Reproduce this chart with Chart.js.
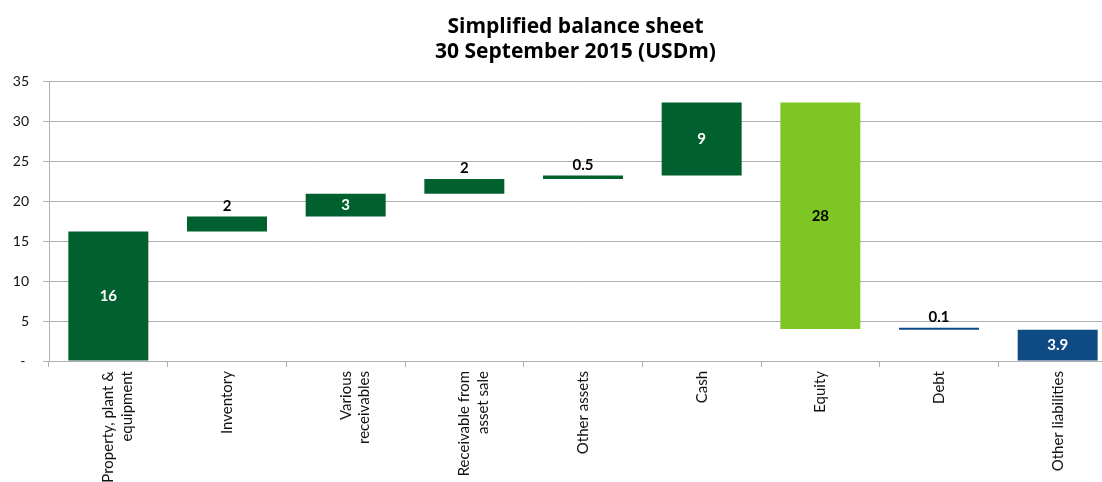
<!doctype html>
<html lang="en">
<head>
<meta charset="utf-8">
<title>Simplified balance sheet</title>
<script src="https://cdn.jsdelivr.net/npm/chart.js"></script>
<style>
  html, body { margin: 0; padding: 0; background: #fff; overflow: hidden; }
  #wrap { position: absolute; left: 0; top: 0; width: 1117px; height: 482px; }
</style>
</head>
<body>
<div id="wrap"><canvas id="myChart"></canvas></div>
<script>
// categories (x axis)
const categories = [
  ["Property, plant &", "equipment"],
  "Inventory",
  ["Various", "receivables"],
  ["Receivable from", "asset sale"],
  "Other assets",
  "Cash",
  "Equity",
  "Debt",
  "Other liabilities"
];
// waterfall: where each bar starts and ends (USDm)
const barStart = [0, 16.2, 18.05, 20.9, 22.75, 23.2, 4.0, 3.9, 0];
const barEnd   = [16.2, 18.05, 20.9, 22.75, 23.2, 32.3, 32.3, 4.0, 3.9];
// value labels as printed on the chart
const valueLabels = ["16", "2", "3", "2", "0.5", "9", "28", "0.1", "3.9"];
const labelInside = [true, false, true, false, false, true, true, false, true];
const yTicks = [0, 5, 10, 15, 20, 25, 30, 35];

const darkGreen = "#00612f";
const lightGreen = "#7dc623";
const blue = "#0e4a84";
const barColors = [darkGreen, darkGreen, darkGreen, darkGreen, darkGreen, darkGreen, lightGreen, blue, blue];
const labelColors = ["#fff", "#000", "#fff", "#000", "#000", "#fff", "#000", "#000", "#fff"];

const FONT = "Lato, 'Open Sans', sans-serif";

// draws the numbers on/above the bars
const valueLabelPlugin = {
  id: "valueLabels",
  afterDatasetsDraw(chart) {
    const ctx = chart.ctx;
    const meta = chart.getDatasetMeta(0);
    ctx.save();
    ctx.font = "bold 15px " + FONT;
    ctx.textAlign = "center";
    meta.data.forEach(function (bar, i) {
      const top = Math.min(bar.y, bar.base);
      const bottom = Math.max(bar.y, bar.base);
      ctx.fillStyle = labelColors[i];
      if (labelInside[i]) {
        ctx.textBaseline = "middle";
        ctx.fillText(valueLabels[i], bar.x, (top + bottom) / 2);
      } else {
        ctx.textBaseline = "bottom";
        ctx.fillText(valueLabels[i], bar.x, top - 3);
      }
    });
    ctx.restore();
  }
};

// two line title centred over the visible plot
const titlePlugin = {
  id: "twoLineTitle",
  afterDraw(chart) {
    const ctx = chart.ctx;
    const area = chart.chartArea;
    const cx = (area.left + Math.min(area.right, window.innerWidth)) / 2;
    ctx.save();
    ctx.font = "bold 21px 'Open Sans', sans-serif";
    ctx.fillStyle = "#000";
    ctx.textAlign = "center";
    ctx.textBaseline = "alphabetic";
    ctx.fillText("Simplified balance sheet", cx, 33);
    ctx.fillText("30 September 2015 (USDm)", cx, 58);
    ctx.restore();
  }
};

const ctx = document.getElementById("myChart");
const myChart = new Chart(ctx, {
  type: "bar",
  data: {
    labels: categories,
    datasets: [{
      label: "USDm",
      data: barStart.map(function (s, i) { return [s, barEnd[i]]; }),
      backgroundColor: barColors,
      borderWidth: 0,
      barPercentage: 0.674,
      categoryPercentage: 1,
      minBarLength: 2
    }]
  },
  options: {
    responsive: true,
    maintainAspectRatio: false,
    animation: false,
    layout: { padding: { top: 81, right: 0, left: 0, bottom: 0 } },
    plugins: {
      legend: { display: false },
      title: { display: false },
      tooltip: { enabled: false }
    },
    scales: {
      x: {
        afterFit: function (scale) { scale.height = 121; },
        grid: { drawOnChartArea: false, drawTicks: true, tickLength: 6, color: "#b0b0b0", offset: true },
        border: { color: "#b0b0b0" },
        ticks: {
          autoSkip: false,
          minRotation: 90,
          maxRotation: 90,
          padding: 4,
          color: "#111",
          font: { family: FONT, size: 15, lineHeight: 1.25 }
        }
      },
      y: {
        min: 0,
        max: 35,
        afterFit: function (scale) { scale.width = 49; },
        afterBuildTicks: function (scale) { scale.ticks = yTicks.map(function (v) { return { value: v }; }); },
        grid: { color: "#b0b0b0", tickLength: 6 },
        border: { color: "#b0b0b0" },
        ticks: {
          padding: 14,
          color: "#111",
          font: { family: FONT, size: 14 },
          callback: function (v) { return v === 0 ? "- " : v; }
        }
      }
    }
  },
  plugins: [valueLabelPlugin, titlePlugin]
});
</script>
</body>
</html>
